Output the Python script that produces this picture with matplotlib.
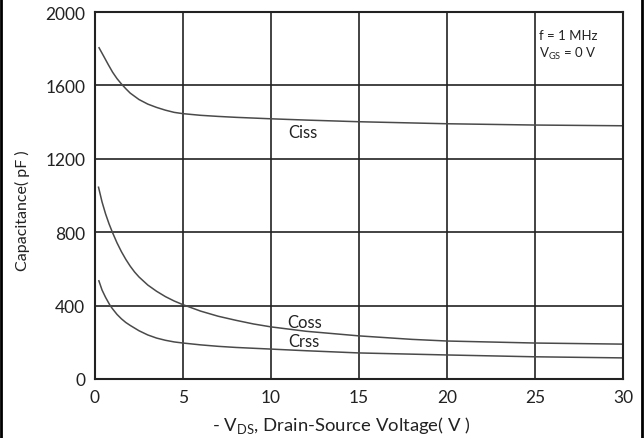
import matplotlib
matplotlib.use("Agg")
from matplotlib import pyplot as plt
from matplotlib.lines import Line2D

plt.rcParams['font.family'] = ['Lato', 'DejaVu Sans']

# Capacitance vs drain-source voltage
vds_iss = [0.23, 0.5, 0.75, 1.0, 1.25, 1.5, 1.75, 2.0, 2.5, 3.0, 3.5, 4.0, 4.5, 5.0,
           6.0, 7.0, 8.0, 10.0, 12.0, 15.0, 20.0, 25.0, 30.0]
ciss = [1805, 1758, 1714, 1672, 1637, 1608, 1582, 1558, 1523, 1498, 1480, 1465, 1453, 1446,
        1437, 1431, 1426, 1418, 1411, 1402, 1391, 1384, 1380]

vds_oss = [0.2, 0.4, 0.6, 0.8, 1.0, 1.25, 1.5, 1.75, 2.0, 2.25, 2.5, 3.0, 3.5, 4.0, 4.5, 5.0,
           6.0, 7.0, 8.0, 9.0, 10.0, 12.0, 15.0, 18.0, 20.0, 25.0, 30.0]
coss = [1045, 965, 900, 845, 797, 742, 694, 652, 615, 583, 556, 512, 478, 449, 425, 405,
        370, 342, 320, 300, 284, 260, 235, 216, 207, 196, 190]

vds_rss = [0.22, 0.4, 0.6, 0.85, 1.0, 1.25, 1.5, 1.75, 2.0, 2.5, 3.0, 3.5, 4.0, 4.5, 5.0,
           6.0, 7.0, 8.0, 10.0, 12.0, 15.0, 20.0, 25.0, 30.0]
crss = [535, 485, 445, 402, 382, 352, 328, 308, 292, 263, 240, 223, 211, 202, 196,
        186, 178, 172, 163, 154, 142, 131, 121, 115]

xticks = [0, 5, 10, 15, 20, 25, 30]
yticks = [0, 400, 800, 1200, 1600, 2000]

fig = plt.figure(figsize=(6.44, 4.39), dpi=100)
ax = fig.add_axes([95 / 644, 1 - 380 / 439, 528 / 644, 367 / 439])

curve = dict(color='#4a4a4a', lw=1.1)
ax.plot(vds_iss, ciss, **curve)
ax.plot(vds_oss, coss, **curve)
ax.plot(vds_rss, crss, **curve)

ax.set_xlim(0, 30)
ax.set_ylim(0, 2000)
ax.set_xticks(xticks)
ax.set_yticks(yticks)
ax.grid(True, color='#222222', lw=1.2)
for s in ax.spines.values():
    s.set_color('#222222')
    s.set_linewidth(1.5)
ax.tick_params(length=0, labelsize=12.5, pad=7, labelcolor='#222222')

ax.text(11.0, 1345, 'Ciss', fontsize=12, va='center', color='#222222')
ax.text(10.9, 312, 'Coss', fontsize=12, va='center', color='#222222')
ax.text(11.0, 205, 'Crss', fontsize=12, va='center', color='#222222')
ax.text(25.2, 1872, 'f = 1 MHz', fontsize=9.5, va='center', color='#222222')
ax.text(25.2, 1775, r'V$_{\mathregular{GS}}$ = 0 V', fontsize=9.5, va='center', color='#222222')

ax.set_ylabel('Capacitance( pF )', fontsize=11.5, color='#222222')
ax.yaxis.set_label_coords(-0.123, 0.46)
ax.set_xlabel(r'- V$_{\mathregular{DS}}$, Drain-Source Voltage( V )', fontsize=13.3,
              color='#222222')
ax.xaxis.set_label_coords(0.466, -0.095)

# black frame edges on the left and right of the image
fig.add_artist(Line2D([0.5 / 644, 0.5 / 644], [0, 1], color='black', lw=2))
fig.add_artist(Line2D([641.5 / 644, 641.5 / 644], [0, 1], color='black', lw=2))

fig.savefig('out.png', dpi=100)
